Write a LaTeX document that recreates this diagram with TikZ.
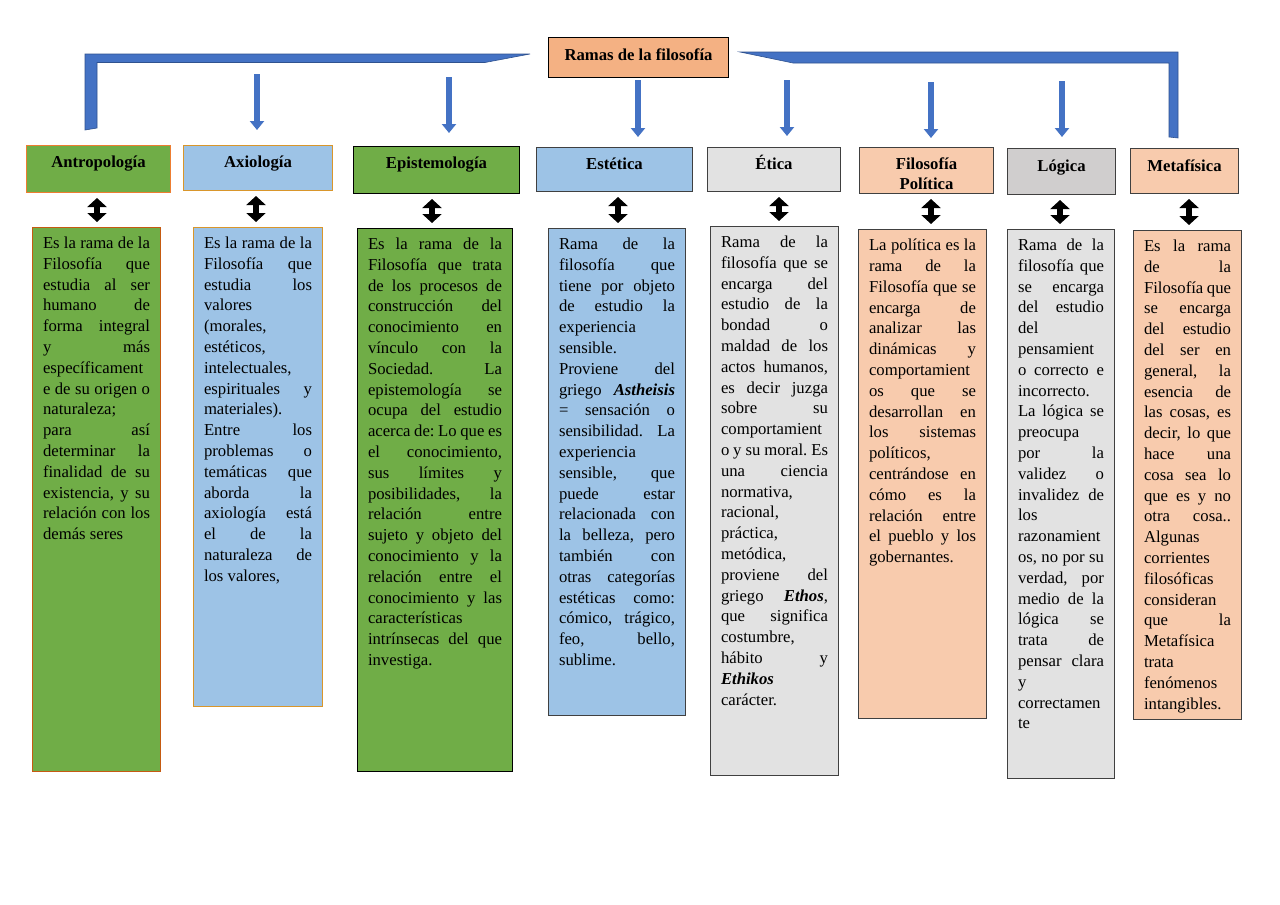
\documentclass[tikz,border=0pt]{standalone}
\usepackage{fontspec}
\setmainfont{Liberation Serif}
\usetikzlibrary{arrows.meta}

\definecolor{leafgreen}{HTML}{70AD47}
\definecolor{skyblue}{HTML}{9DC3E6}
\definecolor{salmon}{HTML}{F4B183}
\definecolor{peach}{HTML}{F8CBAD}
\definecolor{mistgray}{HTML}{E2E2E2}
\definecolor{stonegray}{HTML}{D0CECE}
\definecolor{linkblue}{HTML}{4472C4}
\definecolor{linkedge}{HTML}{2F528F}
\definecolor{rustline}{HTML}{C55A11}
\definecolor{orangeline}{HTML}{ED7D31}
\definecolor{goldline}{HTML}{D9962B}
\definecolor{darkline}{HTML}{404040}

\newcommand{\boxtext}[3]{\parbox[c][#2][t]{#1}{\fontsize{16.7}{20.8}\selectfont\frenchspacing #3}}
\newcommand{\headtext}[3]{\parbox[c][#2][t]{#1}{\centering\fontsize{16.7}{19.5}\selectfont\bfseries\rule{0pt}{16pt}#3}}
\newcommand{\jline}[1]{\hbox to \linewidth{\spaceskip=.25em plus 1fil minus .1em\relax #1}}
\newcommand{\lline}[1]{\hbox to \linewidth{#1\hfil}}

\tikzset{
  headbox/.style={draw=darkline, line width=1pt, inner xsep=3pt, inner ysep=6pt, anchor=north west},
  defbox/.style={draw=darkline, line width=1pt, inner xsep=10.5pt, inner ysep=9.5pt, anchor=north west},
  branch/.style={linkblue, line width=6pt, -{Triangle[width=14pt,length=9pt]}},
  twoway/.style={black, line width=6pt, {Triangle[width=19pt,length=9pt]}-{Triangle[width=19pt,length=9pt]}, shorten <=5pt, shorten >=5pt},
  bracket/.style={fill=linkblue, draw=linkedge, line width=0.6pt}
}

\begin{document}
\begin{tikzpicture}[x=1pt, y=-1pt]
\fill[white] (0,0) rectangle (1280,905);
\useasboundingbox (0,0) rectangle (1280,905);

\node[headbox, inner ysep=7pt, fill=salmon, draw=black] (title) at (548,37) {\headtext{174pt}{26pt}{Ramas de la filosofía}};

\draw[bracket] (530,54) -- (85,54) -- (85,130) -- (97,128) -- (97,62.5) -- (485,62.5) -- cycle;
\draw[bracket] (740,52) -- (1178,52) -- (1178,138) -- (1169,137) -- (1169,63) -- (793,63) -- cycle;

\node[headbox, fill=leafgreen, draw=orangeline] (antro-head) at (26,145) {\headtext{138pt}{35pt}{Antropología}};
\node[headbox, fill=skyblue, draw=goldline] (axio-head) at (183,145) {\headtext{143pt}{33pt}{Axiología}};
\node[headbox, fill=leafgreen, draw=black] (episte-head) at (353,146) {\headtext{160pt}{35pt}{Epistemología}};
\node[headbox, fill=skyblue] (estet-head) at (536,147) {\headtext{150pt}{32pt}{Estética}};
\node[headbox, fill=mistgray] (etica-head) at (707,147) {\headtext{127pt}{32pt}{Ética}};
\node[headbox, fill=peach] (polit-head) at (859,147) {\headtext{128pt}{34pt}{Filosofía\\Política}};
\node[headbox, inner ysep=7pt, fill=stonegray] (logica-head) at (1007,148) {\headtext{102pt}{32pt}{Lógica}};
\node[headbox, inner ysep=7pt, fill=peach] (meta-head) at (1130,148) {\headtext{102pt}{31pt}{Metafísica}};

\coordinate (axio-in) at (257,74);
\coordinate (episte-in) at (449,77);
\coordinate (estet-in) at (638,80);
\coordinate (etica-in) at (787,80);
\coordinate (polit-in) at (931,82);
\coordinate (logica-in) at (1062,81);
\draw[branch, shorten >=15pt] (axio-in) -- (axio-in |- axio-head.north);
\draw[branch, shorten >=13pt] (episte-in) -- (episte-in |- episte-head.north);
\draw[branch, shorten >=10pt] (estet-in) -- (estet-in |- estet-head.north);
\draw[branch, shorten >=11pt] (etica-in) -- (etica-in |- etica-head.north);
\draw[branch, shorten >=9pt] (polit-in) -- (polit-in |- polit-head.north);
\draw[branch, shorten >=11pt] (logica-in) -- (logica-in |- logica-head.north);

\node[defbox, fill=leafgreen, draw=rustline] (antro-def) at (32,227) {\boxtext{107pt}{525pt}{%
\jline{Es la rama de la}
\jline{Filosofía que}
\jline{estudia al ser}
\jline{humano de}
\jline{forma integral}
\jline{y más}
\lline{específicament}
\jline{e de su origen o}
\lline{naturaleza;}
\jline{para así}
\jline{determinar la}
\jline{finalidad de su}
\jline{existencia, y su}
\jline{relación con los}
\lline{demás seres}}};

\node[defbox, fill=skyblue, draw=goldline] (axio-def) at (193,227) {\boxtext{108pt}{460pt}{%
\jline{Es la rama de la}
\jline{Filosofía que}
\jline{estudia los}
\lline{valores}
\lline{(morales,}
\lline{estéticos,}
\lline{intelectuales,}
\jline{espirituales y}
\lline{materiales).}
\jline{Entre los}
\jline{problemas o}
\jline{temáticas que}
\jline{aborda la}
\jline{axiología está}
\jline{el de la}
\jline{naturaleza de}
\lline{los valores,}}};

\node[defbox, fill=leafgreen, draw=black] (episte-def) at (357,228) {\boxtext{134pt}{524pt}{%
\jline{Es la rama de la}
\jline{Filosofía que trata}
\jline{de los procesos de}
\jline{construcción del}
\jline{conocimiento en}
\jline{vínculo con la}
\jline{Sociedad. La}
\jline{epistemología se}
\jline{ocupa del estudio}
\jline{acerca de: Lo que es}
\jline{el conocimiento,}
\jline{sus límites y}
\jline{posibilidades, la}
\jline{relación entre}
\jline{sujeto y objeto del}
\jline{conocimiento y la}
\jline{relación entre el}
\jline{conocimiento y las}
\lline{características}
\jline{intrínsecas del que}
\lline{investiga.}}};

\node[defbox, fill=skyblue] (estet-def) at (548,228) {\boxtext{116pt}{468pt}{%
\jline{Rama de la}
\jline{filosofía que}
\jline{tiene por objeto}
\jline{de estudio la}
\lline{experiencia}
\lline{sensible.}
\jline{Proviene del}
\jline{griego \textbf{\textit{Astheisis}}}
\jline{= sensación o}
\jline{sensibilidad. La}
\lline{experiencia}
\jline{sensible, que}
\jline{puede estar}
\jline{relacionada con}
\jline{la belleza, pero}
\jline{también con}
\jline{otras categorías}
\jline{estéticas como:}
\jline{cómico, trágico,}
\jline{feo, bello,}
\lline{sublime.}}};

\node[defbox, fill=mistgray] (etica-def) at (710,226) {\boxtext{107pt}{530pt}{%
\jline{Rama de la}
\jline{filosofía que se}
\jline{encarga del}
\jline{estudio de la}
\jline{bondad o}
\jline{maldad de los}
\jline{actos humanos,}
\jline{es decir juzga}
\jline{sobre su}
\lline{comportamient}
\jline{o y su moral. Es}
\jline{una ciencia}
\lline{normativa,}
\lline{racional,}
\lline{práctica,}
\lline{metódica,}
\jline{proviene del}
\jline{griego \textbf{\textit{Ethos}},}
\jline{que significa}
\lline{costumbre,}
\jline{hábito y}
\lline{\textbf{\textit{Ethikos}}}
\lline{carácter.}}};

\node[defbox, fill=peach] (polit-def) at (858,229) {\boxtext{107pt}{470pt}{%
\jline{La política es la}
\jline{rama de la}
\jline{Filosofía que se}
\jline{encarga de}
\jline{analizar las}
\jline{dinámicas y}
\lline{comportamient}
\jline{os que se}
\jline{desarrollan en}
\jline{los sistemas}
\lline{políticos,}
\jline{centrándose en}
\jline{cómo es la}
\jline{relación entre}
\jline{el pueblo y los}
\lline{gobernantes.}}};

\node[defbox, fill=mistgray] (logica-def) at (1007,229) {\boxtext{86pt}{530pt}{%
\jline{Rama de la}
\jline{filosofía que}
\jline{se encarga}
\jline{del estudio}
\lline{del}
\lline{pensamient}
\jline{o correcto e}
\lline{incorrecto.}
\jline{La lógica se}
\lline{preocupa}
\jline{por la}
\jline{validez o}
\jline{invalidez de}
\lline{los}
\lline{razonamient}
\jline{os, no por su}
\jline{verdad, por}
\jline{medio de la}
\jline{lógica se}
\jline{trata de}
\jline{pensar clara}
\lline{y}
\lline{correctamen}
\lline{te}}};

\node[defbox, fill=peach] (meta-def) at (1133,230) {\boxtext{87pt}{470pt}{%
\jline{Es la rama}
\jline{de la}
\jline{Filosofía que}
\jline{se encarga}
\jline{del estudio}
\jline{del ser en}
\jline{general, la}
\jline{esencia de}
\jline{las cosas, es}
\jline{decir, lo que}
\jline{hace una}
\jline{cosa sea lo}
\jline{que es y no}
\jline{otra cosa..}
\lline{Algunas}
\lline{corrientes}
\lline{filosóficas}
\lline{consideran}
\jline{que la}
\lline{Metafísica}
\lline{trata}
\lline{fenómenos}
\lline{intangibles.}}};

\coordinate (antro-link) at (97,0);
\coordinate (axio-link) at (256,0);
\coordinate (episte-link) at (432,0);
\coordinate (estet-link) at (618,0);
\coordinate (etica-link) at (779,0);
\coordinate (polit-link) at (931,0);
\coordinate (logica-link) at (1060,0);
\coordinate (meta-link) at (1189,0);
\draw[twoway] (antro-link |- antro-head.south) -- (antro-link |- antro-def.north);
\draw[twoway] (axio-link |- axio-head.south) -- (axio-link |- axio-def.north);
\draw[twoway] (episte-link |- episte-head.south) -- (episte-link |- episte-def.north);
\draw[twoway] (estet-link |- estet-head.south) -- (estet-link |- estet-def.north);
\draw[twoway] (etica-link |- etica-head.south) -- (etica-link |- etica-def.north);
\draw[twoway] (polit-link |- polit-head.south) -- (polit-link |- polit-def.north);
\draw[twoway] (logica-link |- logica-head.south) -- (logica-link |- logica-def.north);
\draw[twoway] (meta-link |- meta-head.south) -- (meta-link |- meta-def.north);
\end{tikzpicture}
\end{document}
